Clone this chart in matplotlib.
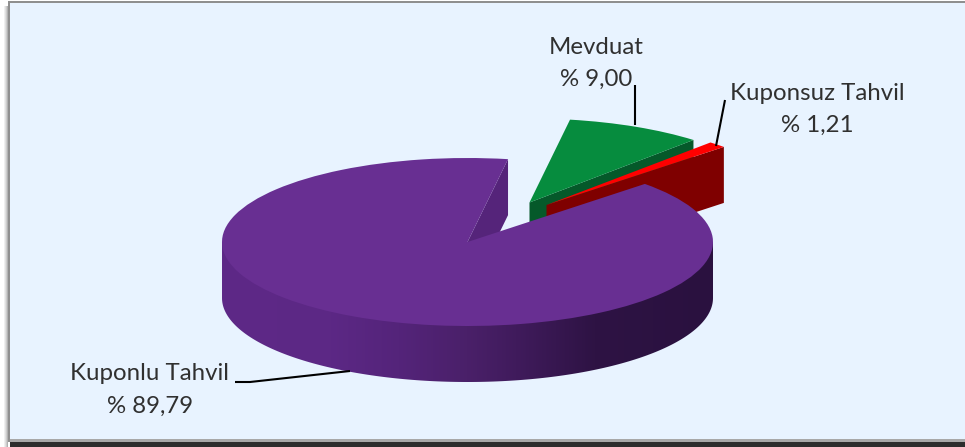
from math import cos, sin, radians

import numpy as np
from matplotlib.colors import LinearSegmentedColormap
from matplotlib.patches import Polygon, Rectangle
from matplotlib.pyplot import figure, close

## data
labels = ['Kuponlu Tahvil', 'Kuponsuz Tahvil', 'Mevduat']
values = [89.79, 1.21, 9.00]

## size of the picture and of the drawn pie (pixel)
W, H = 965, 447
cx, cy = 467.5, 242.
rx, ry = 245.5, 84.
depth = 56.

## colors
col_bg = '#e8f3ff'
col_top = ['#682f92', '#ff0000', '#068c3e']
col_wall = ['#55247a', '#7f0000', '#05592a']
col_rim = LinearSegmentedColormap.from_list('rim', [
	(0., '#5e2987'), (.22, '#5c2885'), (.36, '#54247a'), (.5, '#4a2069'),
	(.6, '#401b5c'), (.76, '#2e1344'), (1., '#2a113f')])

## slice shift from the pie center (pixel, y down), label place and leader line
shift = [(0., 0.), (79., -37.), (62., -39.5)]
lab_xy = [(150., 374.), (817., 93.), (596., 47.)]
leader = [[(235, 382), (250, 382), (350, 371)],
		  [(725, 100), (716, 146)],
		  [(635, 85), (635, 125)]]


def to_pie(pts):
	## pixel to pie unit, 1 unit is rx pixel in x and ry pixel in y
	pts = np.array(pts, dtype=float)
	return np.c_[(pts[:, 0]-cx)/rx, (cy-pts[:, 1])/ry]


def rim_xy(ang, dx=0., dy=0., scale=1.):
	return cx+dx+scale*rx*cos(radians(ang)), cy+dy-scale*ry*sin(radians(ang))


def cut_wall(i, ang, zo):
	_dx, _dy = shift[i]
	_ax, _ay = cx+_dx, cy+_dy
	_rx, _ry = rim_xy(ang, _dx, _dy)
	_pts = [(_ax, _ay), (_rx, _ry), (_rx, _ry+depth), (_ax, _ay+depth)]
	ax_pie.add_patch(Polygon(to_pie(_pts), fc=col_wall[i], lw=0, zorder=zo))


fig = figure(figsize=(W/100., H/100.), dpi=100., facecolor='#ffffff')

## pixel axes : frame
ax = fig.add_axes([0, 0, 1, 1])
ax.set(xlim=(0, W), ylim=(H, 0))
ax.axis('off')

for _x, _al in zip(range(4, 8), [.12, .25, .4, .6]):
	ax.add_patch(Rectangle((_x, 6), 1, H-6, fc='#808080', alpha=_al, lw=0))
ax.add_patch(Rectangle((10, 3), W-10, 436, fc=col_bg, lw=0))
ax.add_patch(Rectangle((8, 1), W-8, 2, fc='#8f8f8f', lw=0))
ax.add_patch(Rectangle((8, 1), 2, 441, fc='#8f8f8f', lw=0))
ax.add_patch(Rectangle((10, 439), W-10, 3, fc='#a8a8a8', lw=0))
ax.add_patch(Rectangle((10, 442), W-10, 5, fc='#2d2d2d', lw=0))

## pie axes
ax_pie = fig.add_axes([0, 0, 1, 1], facecolor='none')
wedges, _ = ax_pie.pie(values, colors=col_top, startangle=80.5, counterclock=True,
					   wedgeprops={'linewidth': 0.})
lim = dict(aspect='auto', xlim=(-cx/rx, (W-cx)/rx), ylim=((cy-H)/ry, cy/ry))
ax_pie.set(**lim)

for _w, (_dx, _dy) in zip(wedges, shift):
	_w.set_center((_dx/rx, -_dy/ry))

## draw order, back to front
cut_wall(0, wedges[0].theta1, 1)
cut_wall(2, wedges[2].theta1, 2)
wedges[2].set_zorder(3)
cut_wall(1, wedges[1].theta1, 4)
wedges[1].set_zorder(5)
wedges[0].set_zorder(7)

## outer wall of big slice, color goes with x
## its upper edge stays under the slice so no seam shows
ang = np.linspace(180., 360., 181)
top = [rim_xy(180.)]+[rim_xy(_a, scale=.97) for _a in ang]+[rim_xy(360.)]
bot = [rim_xy(_a, 0., depth) for _a in ang[::-1]]
rim = Polygon(to_pie(top+bot), fc='none', lw=0)
ax_pie.add_patch(rim)

img = ax_pie.imshow(np.linspace(0., 1., 256).reshape(1, -1), cmap=col_rim, aspect='auto',
					extent=(-1., 1., (cy-H)/ry, 1.), zorder=6)
img.set_clip_path(rim)
ax_pie.set(**lim)

## label and leader line
ax_lab = fig.add_axes([0, 0, 1, 1], facecolor='none')
ax_lab.set(xlim=(0, W), ylim=(H, 0))
ax_lab.axis('off')

fs = 17.3
for _lab, _val, (_x, _y), _line in zip(labels, values, lab_xy, leader):
	ax_lab.text(_x, _y, _lab, ha='center', va='center', fontsize=fs, family='Lato', color='#303030')
	ax_lab.text(_x, _y+32., f'% {_val:.2f}'.replace('.', ','), ha='center', va='center',
				fontsize=fs, family='Lato', color='#303030')
	ax_lab.plot(*zip(*_line), color='#000000', lw=1.5, solid_capstyle='butt')

fig.savefig('out.png', dpi=100., facecolor=fig.get_facecolor())
close()
